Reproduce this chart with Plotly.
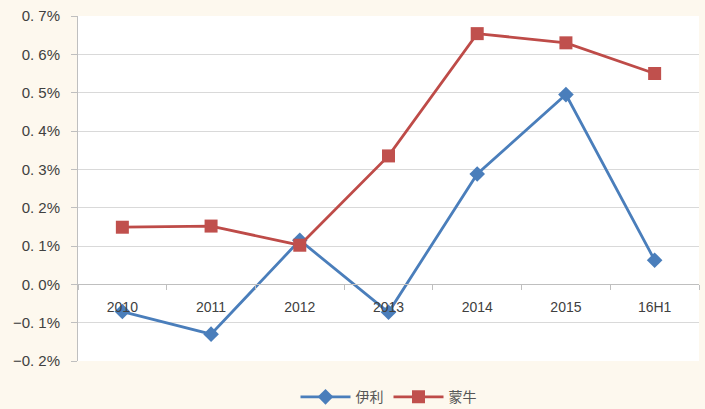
import plotly.graph_objects as go

categories = ["2010", "2011", "2012", "2013", "2014", "2015", "16H1"]
yili = [-0.071, -0.130, 0.115, -0.073, 0.288, 0.495, 0.063]
mengniu = [0.149, 0.152, 0.102, 0.335, 0.654, 0.630, 0.550]
y_ticks = [-0.2, -0.1, 0.0, 0.1, 0.2, 0.3, 0.4, 0.5, 0.6, 0.7]
y_ticktext = ["\u22120. 2%", "\u22120. 1%", "0. 0%", "0. 1%", "0. 2%", "0. 3%", "0. 4%", "0. 5%", "0. 6%", "0. 7%"]

ymin, ymax = -0.2, 0.7
font = "Liberation Sans, Arial, sans-serif"

fig = go.Figure()
fig.add_trace(go.Scatter(x=categories, y=yili, name="伊利", mode="lines+markers",
                         line=dict(color="#4A7EBB", width=2.8),
                         marker=dict(symbol="diamond", size=12, color="#4A7EBB")))
fig.add_trace(go.Scatter(x=categories, y=mengniu, name="蒙牛", mode="lines+markers",
                         line=dict(color="#BE4B48", width=2.8),
                         marker=dict(symbol="square", size=13, color="#C0504D")))

fig.update_layout(
    width=705, height=409,
    margin=dict(l=78, r=6, t=16, b=48, autoexpand=False),
    paper_bgcolor="#FDF8EE",
    plot_bgcolor="#FFFFFF",
    font=dict(family=font, size=14, color="#404040"),
    showlegend=True,
    legend=dict(orientation="h", x=0.5, xanchor="center", y=-0.105, yanchor="middle",
                font=dict(family="Noto Sans CJK SC", size=14, color="#555555"),
                itemwidth=50,
                bgcolor="rgba(0,0,0,0)"),
    xaxis=dict(type="category", anchor="free", position=(0 - ymin) / (ymax - ymin),
               showline=True, linecolor="#BFBFBF", linewidth=1,
               ticks="outside", tickson="boundaries", ticklen=5, tickcolor="#BFBFBF",
               ticklabelstandoff=10,
               showgrid=False, tickfont=dict(size=14, color="#404040"),
               range=[-0.5, 6.5]),
    yaxis=dict(range=[ymin, ymax], tickvals=y_ticks, ticktext=y_ticktext,
               showgrid=True, gridcolor="#D9D9D9", gridwidth=1,
               showline=True, linecolor="#BFBFBF", linewidth=1,
               ticks="outside", ticklen=6, tickcolor="#BFBFBF",
               ticklabelstandoff=8,
               zeroline=False, tickfont=dict(size=15, color="#404040")),
)

fig.write_html("out.html")
